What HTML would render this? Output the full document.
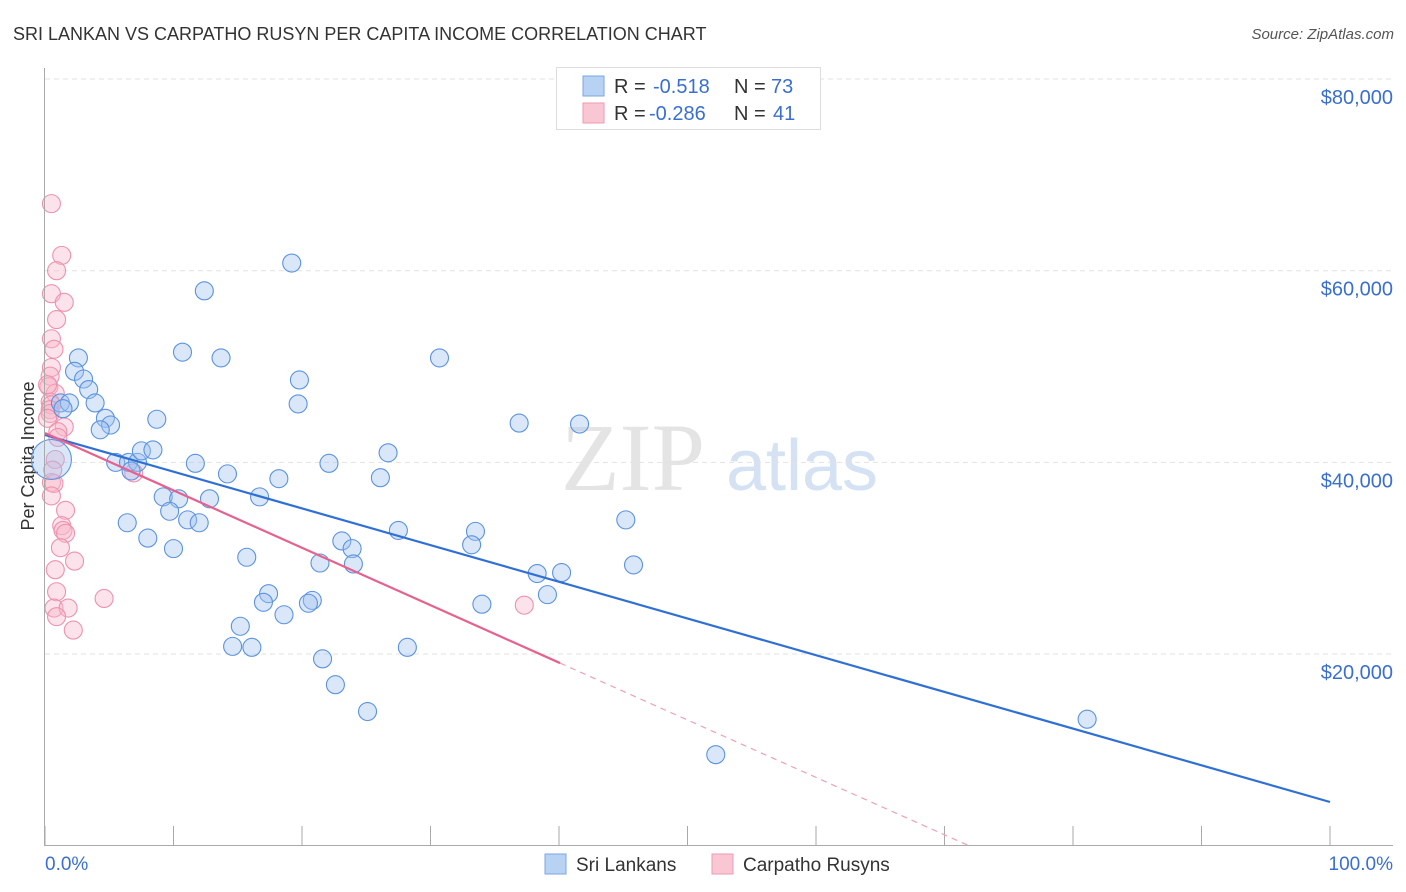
<!DOCTYPE html>
<html><head><meta charset="utf-8"><style>
body{margin:0;background:#fff;font-family:"Liberation Sans",sans-serif}
#c{position:relative;width:1406px;height:892px;overflow:hidden}
</style></head><body>
<div id="c">
<svg id="s" width="1406" height="892">
<text x="13" y="40" font-size="18" fill="#333">SRI LANKAN VS CARPATHO RUSYN PER CAPITA INCOME CORRELATION CHART</text>
<text x="1394" y="39" font-size="15" fill="#555" font-style="italic" text-anchor="end">Source: ZipAtlas.com</text>
<text x="633" y="490" font-size="96" fill="#e4e4e4" font-family="Liberation Serif,serif" text-anchor="middle">ZIP</text>
<text x="802" y="490" font-size="72" fill="#d4e2f4" text-anchor="middle">atlas</text>
<text transform="translate(34,456) rotate(-90)" font-size="18" fill="#333" text-anchor="middle">Per Capita Income</text>
<g id="grid"></g><g id="pts"></g><g id="lines"></g>
<line x1="44.5" y1="68" x2="44.5" y2="846" stroke="#aaa"/>
<line x1="44" y1="845.5" x2="1393" y2="845.5" stroke="#aaa"/>
<text x="45" y="870" font-size="19" fill="#3a6fd0">0.0%</text>
<text x="1393" y="870" font-size="19" fill="#3a6fd0" text-anchor="end">100.0%</text>
<g>
<rect x="556.5" y="67.5" width="264" height="62" fill="#fff" stroke="#ddd"/>
<rect x="583" y="76" width="21" height="20" fill="#b8d2f4" stroke="#7aa6e4"/>
<rect x="583" y="103" width="21" height="20" fill="#f9c6d4" stroke="#ee9ab4"/>
<text x="614" y="93" font-size="20" fill="#333">R =</text>
<text x="653" y="93" font-size="20" fill="#3a6fd0">-0.518</text>
<text x="734" y="93" font-size="20" fill="#333">N =</text>
<text x="771" y="93" font-size="20" fill="#3a6fd0">73</text>
<text x="614" y="120" font-size="20" fill="#333">R =</text>
<text x="649" y="120" font-size="20" fill="#3a6fd0">-0.286</text>
<text x="734" y="120" font-size="20" fill="#333">N =</text>
<text x="773" y="120" font-size="20" fill="#3a6fd0">41</text>
</g>
<g>
<rect x="545" y="854" width="21" height="20" fill="#b8d2f4" stroke="#7aa6e4"/>
<text x="576" y="871" font-size="19" fill="#333">Sri Lankans</text>
<rect x="712" y="854" width="21" height="20" fill="#f9c6d4" stroke="#ee9ab4"/>
<text x="743" y="871" font-size="19" fill="#333">Carpatho Rusyns</text>
</g>
</svg>
</div>
<script>
const yTicks=[20000,40000,60000,80000];
const yTickLabels=["$20,000","$40,000","$60,000","$80,000"];
const xTicks=[0,10,20,30,40,50,60,70,80,90,100];
const blueX=[2.6,2.3,3.0,3.4,1.2,1.9,3.9,1.4,4.7,5.1,4.3,8.7,10.7,13.7,12.4,19.2,19.8,19.7,30.7,36.9,41.6,5.5,6.5,7.2,6.7,7.5,8.4,11.7,14.2,18.2,22.1,26.7,26.1,9.2,10.4,12.8,16.7,9.7,11.1,12.0,6.4,8.0,10.0,15.7,27.5,33.5,33.2,23.1,23.9,24.0,21.4,45.2,45.8,38.3,40.2,39.1,34.0,17.4,17.0,18.6,20.8,20.5,15.2,14.6,16.1,28.2,21.6,22.6,25.1,81.1,52.2,0.5];
const blueY=[50900,49500,48700,47600,46200,46200,46200,45600,44600,43900,43400,44500,51500,50900,57900,60800,48600,46100,50900,44100,44000,40000,40000,40000,39100,41200,41300,39900,38800,38300,39900,41000,38400,36400,36200,36200,36400,34900,34000,33700,33700,32100,31000,30100,32900,32800,31400,31800,31000,29400,29500,34000,29300,28400,28500,26200,25200,26300,25400,24100,25600,25300,22900,20800,20700,20700,19500,16800,14000,13200,9500,40300];
const pinkX=[0.5,1.3,0.9,0.5,1.5,0.9,0.5,0.7,0.5,0.4,0.3,0.8,0.4,0.5,0.4,0.4,0.2,1.5,1.0,1.0,6.9,0.5,0.7,0.5,1.6,1.3,1.4,1.6,1.2,2.3,0.8,0.9,0.7,1.8,0.9,2.2,4.6,37.3,0.2,0.8,0.6];
const pinkY=[67000,61600,60000,57600,56700,54900,52900,51800,49900,49000,47900,47200,46300,46000,45500,45100,44600,43700,43200,42600,38900,37900,37800,36500,35000,33400,32900,32600,31100,29700,28800,26500,24800,24800,23900,22500,25800,25100,48100,40300,39200];
const blueTrend=[42857,4560];
const pinkTrend=[43066,-599];
const pinkSolidEnd=40.08;
const NS="http://www.w3.org/2000/svg";
function sx(v){return 45+v*12.85;}
function sy(v){return 845.7-v/104.35;}
function mk(t,a,p){const e=document.createElementNS(NS,t);for(const k in a)e.setAttribute(k,a[k]);p.appendChild(e);return e;}
const grid=document.getElementById('grid'),pts=document.getElementById('pts'),lines=document.getElementById('lines');
yTicks.forEach((v,i)=>{
 const l=mk('line',{x1:45,x2:1393,y1:sy(v),y2:sy(v),stroke:'#e2e2e2','stroke-dasharray':'5,4'},grid);
 
 
 const t=mk('text',{x:1393,y:sy(v)+25,'font-size':20,fill:'#3a6fd0','text-anchor':'end'},grid);
 t.textContent=yTickLabels[i];
 
 
});
xTicks.forEach(v=>{
 const l=mk('line',{x1:sx(v),x2:sx(v),y1:826,y2:846,stroke:'#aaa'},grid);
 
 
});
function draw(X,Y,fill,stroke,name){
 X.forEach((x,i)=>{
  const big=(name==='sri-lankan-point'&&i===X.length-1);
  const c=mk('circle',{cx:sx(x),cy:sy(Y[i]),r:big?20:9,fill:fill,stroke:stroke,'stroke-width':1.1},pts);
  
  
 });
}
draw(pinkX,pinkY,'rgba(248,182,202,0.4)','#ee92ae','carpatho-rusyn-point');
draw(blueX,blueY,'rgba(160,196,240,0.4)','#5b93e0','sri-lankan-point');
const bl=mk('line',{x1:sx(0),y1:sy(blueTrend[0]),x2:sx(100),y2:sy(blueTrend[1]),stroke:'#2f6fd6','stroke-width':2.2},lines);


const pe=pinkTrend[0]+pinkTrend[1]*pinkSolidEnd;
const pl=mk('line',{x1:sx(0),y1:sy(pinkTrend[0]),x2:sx(pinkSolidEnd),y2:sy(pe),stroke:'#e8608e','stroke-width':2.2},lines);


const zx=-pinkTrend[0]/pinkTrend[1];
const pd=mk('line',{x1:sx(pinkSolidEnd),y1:sy(pe),x2:sx(zx),y2:sy(0),stroke:'#eea0b8','stroke-width':1.2,'stroke-dasharray':'6,5'},lines);


</script>
</body></html>
